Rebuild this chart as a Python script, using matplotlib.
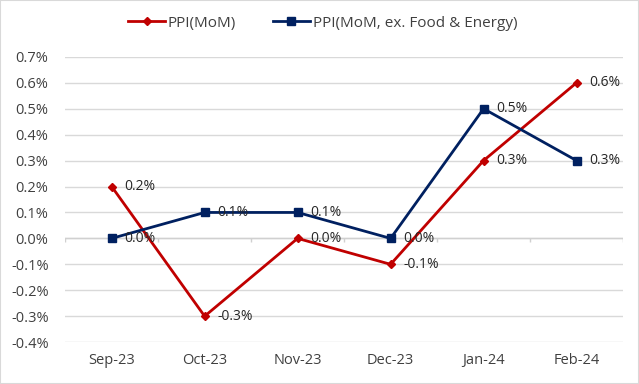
import matplotlib.pyplot as plt
import numpy as np

# chart data
months = ['Sep-23', 'Oct-23', 'Nov-23', 'Dec-23', 'Jan-24', 'Feb-24']
ppi = [0.2, -0.3, 0.0, -0.1, 0.3, 0.6]
ppi_core = [0.0, 0.1, 0.1, 0.0, 0.5, 0.3]
yticks = [-0.4, -0.3, -0.2, -0.1, 0.0, 0.1, 0.2, 0.3, 0.4, 0.5, 0.6, 0.7]

plt.rcParams['font.family'] = ['Open Sans', 'DejaVu Sans']

fig = plt.figure(figsize=(6.39, 3.84), dpi=100)
ax = fig.add_axes([0.102, 0.109, 0.873, 0.743])

x = np.arange(len(months))
red = '#C00000'
navy = '#002060'

ax.plot(x, ppi, color=red, lw=2, marker='D', ms=4.5, label='PPI(MoM)', zorder=3)
ax.plot(x, ppi_core, color=navy, lw=2, marker='s', ms=6,
        label='PPI(MoM, ex. Food & Energy)', zorder=3)

for xi, v in zip(x, ppi):
    ax.annotate(f'{v:.1f}%', (xi, v), xytext=(9, 0), textcoords='offset points',
                va='center', ha='left', fontsize=10, color='#262626')
for xi, v in zip(x, ppi_core):
    ax.annotate(f'{v:.1f}%', (xi, v), xytext=(9, 0), textcoords='offset points',
                va='center', ha='left', fontsize=10, color='#262626')

ax.set_xlim(-0.5, len(months) - 0.5)
ax.set_ylim(-0.4, 0.7)
ax.set_yticks(yticks)
ax.set_yticklabels([f'{t:.1f}%' for t in yticks], fontsize=10.5, color='#404040')
ax.set_xticks(x)
ax.set_xticklabels(months, fontsize=10.5, color='#404040')
ax.tick_params(length=0, pad=8)
ax.tick_params(axis='y', pad=12)

ax.grid(axis='y', color='#d9d9d9', lw=1)
ax.set_axisbelow(True)
for s in ax.spines.values():
    s.set_visible(False)

# zero axis line with category tick marks
ax.axhline(0, color='#d0d0d0', lw=1, zorder=1)
ax.vlines(np.arange(len(months) + 1) - 0.5, -0.012, 0, color='#d0d0d0', lw=1, zorder=1)

handles, labels = ax.get_legend_handles_labels()
fig.legend(handles, labels, loc='center', bbox_to_anchor=(0.505, 0.94), ncol=2,
           frameon=False, fontsize=11, handlelength=2.4, handletextpad=0.2,
           columnspacing=2.4, labelcolor='#404040')

# outer border
fig.patches.append(plt.Rectangle((0, 0), 1, 1, transform=fig.transFigure,
                                 fill=False, edgecolor='#d9d9d9', lw=1.5))

fig.savefig('out.png', dpi=100)
